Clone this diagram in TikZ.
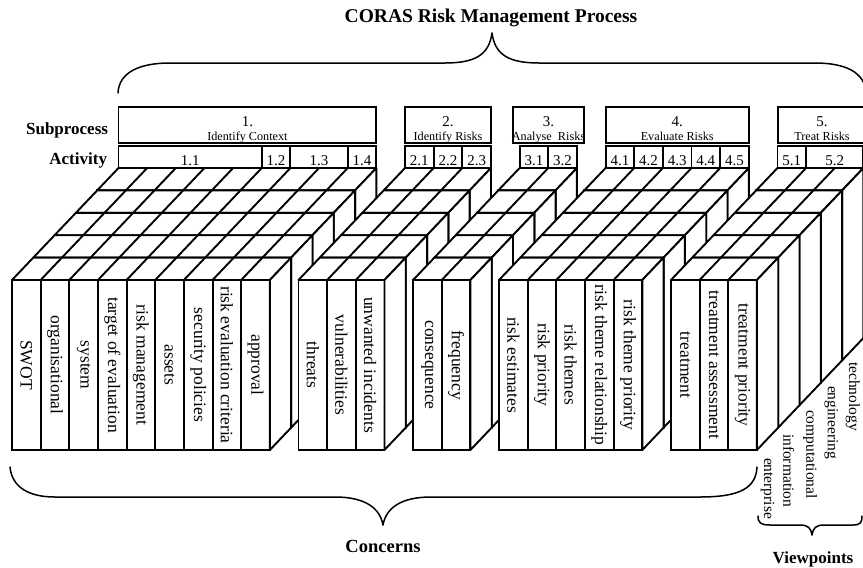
\documentclass[tikz,border=0pt]{standalone}
\usepackage{fontspec}
\setmainfont{Liberation Serif}
\newcommand\fsTitle{\fontsize{19.5}{22}\selectfont\bfseries}
\newcommand\fsLab{\fontsize{17}{20}\selectfont\bfseries}
\newcommand\fsConc{\fontsize{18.5}{20}\selectfont\bfseries}
\newcommand\fsCon{\fontsize{17.5}{20}\selectfont}
\newcommand\fsAct{\fontsize{15}{18}\selectfont}
\newcommand\fsNum{\fontsize{15}{18}\selectfont}
\newcommand\fsSub{\fontsize{12.2}{14}\selectfont}
\newcommand\fsVp{\fontsize{15.5}{18}\selectfont}
\begin{document}
\begin{tikzpicture}[x=1pt,y=-1pt,line width=1.9pt,
  txt/.style={inner sep=0pt,outer sep=0pt},
  face/.style={draw=black,fill=white,line join=round},
  brace/.style={line width=1.5pt,line cap=round,line join=round}]
\fill[white] (0,0) rectangle (863,568);
\useasboundingbox (0,0) rectangle (863,568);
\def\U{28.65}\def\DX{21.3}\def\DY{22.4}
% stacked viewpoint layers, back to front
\foreach \k in {4,3,2,1,0}{
 \foreach \s/\n in {0/9,10/3,14/2,17/5,23/3}{
  \pgfmathsetmacro\xa{12+\s*\U+\k*\DX}
  \pgfmathsetmacro\xb{\xa+\n*\U}
  \pgfmathsetmacro\yt{280-\k*\DY}
  \pgfmathsetmacro\yb{450-\k*\DY}
  \path[face] (\xa,\yt) rectangle (\xb,\yb);
  \path[face] (\xa,\yt) -- (\xb,\yt) -- (\xb+\DX,\yt-\DY) -- (\xa+\DX,\yt-\DY) -- cycle;
  \path[face] (\xb,\yt) -- (\xb+\DX,\yt-\DY) -- (\xb+\DX,\yb-\DY) -- (\xb,\yb) -- cycle;
  \ifnum\n>1
   \pgfmathtruncatemacro\m{\n-1}
   \foreach \i in {1,...,\m}{
     \draw (\xa+\i*\U,\yt) -- (\xa+\i*\U+\DX,\yt-\DY);
   }
  \fi
 }
}
% front slabs (concerns)
\foreach \s/\t [count=\c] in {0/SWOT,1/organisational,2/system,3/target of evaluation,4/risk management,5/assets,6/security policies,7/risk evaluation criteria,8/approval,10/threats,11/vulnerabilities,12/unwanted incidents,14/consequence,15/frequency,17/risk estimates,18/risk priority,19/risk themes,20/risk theme relationship,21/risk theme priority,23/treatment,24/treatment assessment,25/treatment priority}{
  \pgfmathsetmacro\xa{12+\s*\U}
  \draw (\xa,280) rectangle (\xa+\U,450);
  \node[txt,rotate=-90,font=\fsCon] (con\c) at (\xa+0.5*\U,365) {\t};
}
% activities
\foreach \s/\n/\t [count=\c] in {0/5/1.1,5/1/1.2,6/2/1.3,8/1/1.4,10/1/2.1,11/1/2.2,12/1/2.3,14/1/3.1,15/1/3.2,17/1/4.1,18/1/4.2,19/1/4.3,20/1/4.4,21/1/4.5,23/1/5.1,24/2/5.2}{
  \pgfmathsetmacro\xa{118.5+\s*\U}
  \pgfmathsetmacro\xb{\xa+\n*\U}
  \draw (\xa,146) rectangle (\xb,168);
  \node[txt,anchor=base,font=\fsAct] (act\c) at ({(\xa+\xb)/2},165) {\t};
}
% subprocesses
\foreach \xa/\xb/\nb/\t [count=\c] in {118.5/376.4/1./Identify Context,405/491/2./Identify Risks,513/584/3./Analyse~ Risks,605.6/748.8/4./Evaluate Risks,778/866/5./Treat Risks}{
  \draw (\xa,107) rectangle (\xb,143);
  \node[txt,anchor=base,font=\fsNum] (spn\c) at ({(\xa+\xb)/2},126.5) {\nb};
  \node[txt,anchor=base,font=\fsSub] (spt\c) at ({(\xa+\xb)/2},140.3) {\t};
}
% viewpoint labels
\foreach \t [count=\c from 0] in {enterprise,information,computational,engineering,technology}{
  \pgfmathsetmacro\xc{756.9+\DX*(\c+0.5)}
  \pgfmathsetmacro\yc{458-24*\c}
  \node[txt,rotate=-90,anchor=west,font=\fsVp] (vp\c) at (\xc,\yc) {\t};
}
% titles
\node[txt,anchor=base,font=\fsTitle] (title) at (491,22) {CORAS Risk Management Process};
\node[txt,anchor=base east,font=\fsLab] (lsub) at (108,134) {Subprocess};
\node[txt,anchor=base east,font=\fsLab] (lact) at (107,164) {Activity};
\node[txt,anchor=base,font=\fsConc] (lcon) at (383,552) {Concerns};
\node[txt,anchor=base,font=\fsLab] (lvp) at (813,563) {Viewpoints};
% braces
\draw[brace] (118,93) .. controls (119,72) and (140,63) .. (170,63) -- (445,63) .. controls (475,63) and (489,55) .. (492,33) .. controls (495,55) and (509,63) .. (539,63) -- (815,63) .. controls (845,63) and (865,72) .. (866,93);
\draw[brace] (10,467) .. controls (12,488) and (30,497) .. (55,497) -- (335,497) .. controls (365,497) and (380,508) .. (383,525) .. controls (386,508) and (401,497) .. (431,497) -- (700,497) .. controls (740,497) and (756,488) .. (757,467);
\draw[brace] (758,516) .. controls (758,523) and (761,525) .. (770,525) -- (800,525) .. controls (808,525) and (811,528) .. (812,535) .. controls (813,528) and (816,525) .. (824,525) -- (853,525) .. controls (861,525) and (862,522) .. (862,516);
\end{tikzpicture}
\end{document}
